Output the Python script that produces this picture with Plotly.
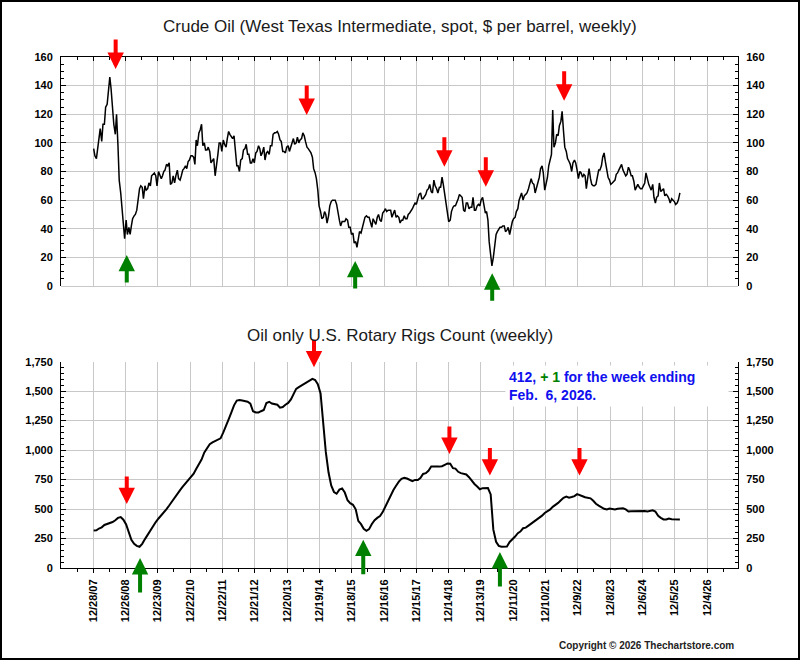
import pandas as pd
import plotly.graph_objects as go

# ---------------- data ----------------
# WTI spot, $ per barrel at ~1st and ~15th of each month
oil_start = "2008-01-01"
oil_wti = [
    # 2008
    96, 91, 89, 95, 102, 110, 101, 113, 113, 125, 127, 135, 146, 138, 124, 113, 106, 120, 98, 74, 65, 56, 47, 33,
    # 2009
    46, 36, 41, 36, 42, 47, 49, 50, 53, 59, 68, 70, 69, 61, 70, 67, 68, 72, 70, 77, 78, 79, 77, 70,
    # 2010
    80, 78, 75, 77, 80, 81, 85, 84, 86, 71, 72, 77, 72, 77, 81, 75, 74, 77, 81, 82, 84, 82, 87, 88,
    # 2011
    91, 91, 90, 85, 102, 98, 107, 109, 113, 98, 100, 95, 95, 97, 94, 86, 88, 89, 77, 86, 92, 100, 100, 94,
    # 2012
    102, 99, 97, 103, 108, 106, 104, 103, 105, 93, 84, 84, 80, 88, 89, 95, 96, 99, 92, 92, 86, 86, 89, 86,
    # 2013
    93, 94, 98, 96, 91, 93, 97, 88, 93, 94, 92, 98, 98, 106, 107, 107, 108, 106, 102, 101, 94, 94, 93, 97,
    # 2014
    98, 94, 97, 100, 103, 99, 100, 104, 100, 102, 103, 107, 105, 101, 97, 96, 94, 93, 90, 82, 79, 75, 67, 56,
    # 2015
    52, 47, 48, 52, 50, 44, 49, 56, 59, 60, 60, 60, 57, 51, 46, 42, 45, 45, 45, 47, 46, 41, 41, 36,
    # 2016
    37, 30, 31, 27, 34, 38, 37, 41, 45, 48, 49, 48, 48, 45, 41, 47, 44, 43, 48, 50, 46, 45, 51, 52,
    # 2017
    54, 52, 53, 53, 53, 48, 51, 53, 48, 49, 48, 44, 46, 46, 49, 47, 47, 50, 51, 52, 54, 56, 58, 57,
    # 2018
    61, 64, 65, 61, 61, 62, 64, 67, 68, 71, 66, 65, 74, 70, 68, 65, 69, 69, 76, 71, 64, 56, 52, 45,
    # 2019
    46, 52, 55, 56, 56, 58, 61, 64, 63, 62, 53, 52, 58, 58, 54, 55, 55, 62, 53, 53, 56, 57, 56, 60,
    # 2020
    62, 58, 51, 52, 46, 31, 23, 14, 20, 29, 36, 38, 40, 41, 41, 42, 42, 38, 39, 41, 36, 41, 45, 47,
    # 2021
    48, 52, 54, 60, 62, 65, 60, 63, 64, 65, 68, 71, 75, 72, 71, 65, 69, 72, 76, 82, 84, 79, 67, 71,
    # 2022
    76, 84, 88, 92, 123, 97, 100, 106, 105, 112, 115, 122, 108, 97, 94, 89, 87, 85, 80, 86, 88, 86, 81, 75,
    # 2023
    80, 79, 76, 78, 77, 68, 76, 82, 75, 71, 70, 70, 71, 76, 81, 81, 84, 90, 93, 87, 81, 76, 74, 71,
    # 2024
    72, 73, 74, 78, 79, 81, 84, 85, 81, 79, 77, 78, 83, 81, 77, 77, 73, 67, 70, 71, 69, 68, 68, 70,
    # 2025
    72, 79, 73, 71, 69, 67, 71, 62, 58, 62, 63, 72, 66, 67, 68, 63, 64, 63, 61, 58, 61, 60, 59, 57,
    # 2026
    58, 60, 65,
]

# Oil-only U.S. rotary rig count at the start of each month
rig_start = "2008-01-01"
rig_count = [
    # 2008
    318, 320, 335, 345, 365, 375, 378, 390, 405, 425, 432, 410,
    # 2009
    370, 300, 240, 205, 188, 180, 205, 245, 285, 320, 355, 390,
    # 2010
    420, 445, 470, 500, 530, 565, 600, 630, 660, 690, 720, 750,
    # 2011
    770, 800, 840, 880, 920, 980, 1020, 1050, 1065, 1075, 1085, 1100,
    # 2012
    1150, 1200, 1260, 1320, 1380, 1420, 1425, 1420, 1415, 1410, 1395, 1330,
    # 2013
    1320, 1320, 1330, 1340, 1400, 1410, 1395, 1390, 1385, 1360, 1365, 1385,
    # 2014
    1400, 1430, 1480, 1520, 1535, 1550, 1565, 1580, 1590, 1605, 1595, 1560,
    # 2015
    1480, 1220, 985, 810, 700, 645, 630, 665, 675, 640, 575, 550,
    # 2016
    536, 498, 400, 372, 332, 316, 330, 374, 406, 425, 441, 474,
    # 2017
    525, 566, 609, 662, 697, 733, 756, 766, 759, 750, 737, 747,
    # 2018
    747, 765, 798, 804, 825, 861, 858, 861, 860, 863, 875, 887,
    # 2019
    885, 847, 843, 816, 805, 800, 793, 770, 738, 713, 691, 668,
    # 2020
    677, 675, 678, 624, 325, 222, 188, 180, 180, 183, 221, 241,
    # 2021
    267, 295, 309, 337, 342, 359, 376, 387, 410, 428, 444, 467,
    # 2022
    480, 497, 519, 533, 552, 574, 595, 605, 596, 602, 610, 627,
    # 2023
    621, 609, 600, 593, 591, 570, 545, 529, 512, 502, 496, 505,
    # 2024
    501, 497, 503, 506, 506, 497, 479, 482, 483, 479, 479, 482,
    # 2025
    483, 479, 486, 489, 479, 442, 425, 412, 411, 420, 414, 412,
    # 2026
    409, 412,
]

# x-axis tick labels (dates as printed on the chart)
tick_labels = ["12/28/07", "12/26/08", "12/23/09", "12/22/10", "12/22/11", "12/21/12",
               "12/20/13", "12/19/14", "12/18/15", "12/16/16", "12/15/17", "12/14/18",
               "12/13/19", "12/11/20", "12/10/21", "12/9/22", "12/8/23", "12/6/24",
               "12/5/25", "12/4/26"]

# turning-point arrows: date, value at the arrow tip, direction
oil_arrow_dates = ["2008-09-05", "2009-01-08", "2014-07-29", "2016-01-26",
                   "2018-10-27", "2020-02-06", "2020-04-18", "2022-07-08"]
oil_arrow_values = [151.6, 21.7, 119.5, 17.5, 83.4, 69.4, 8.9, 129.5]
oil_arrow_dirs = ["down", "up", "down", "up", "down", "down", "up", "down"]

rig_arrow_dates = ["2009-01-08", "2009-06-07", "2014-10-19", "2016-04-26",
                   "2018-12-23", "2020-03-23", "2020-07-14", "2022-12-28"]
rig_arrow_values = [542, 85, 1702, 240, 968, 784, 135, 784]
rig_arrow_dirs = ["down", "up", "down", "up", "down", "down", "up", "down"]

latest_count = 412
latest_change = "+ 1"
latest_date = "Feb.\u00a0 6, 2026."

# ---------------- figure ----------------
oil_dates = pd.date_range(oil_start, periods=len(oil_wti), freq="SMS")
rig_dates = pd.date_range(rig_start, periods=len(rig_count), freq="MS")
tick_vals = pd.to_datetime(tick_labels, format="%m/%d/%y")
step = tick_vals[1] - tick_vals[0]
minor_vals = [tick_vals[0] - step / 2] + [a + (b - a) / 2 for a, b in zip(tick_vals[:-1], tick_vals[1:])] + [tick_vals[-1] + step / 2]
x_range = ["2006-12-29", "2027-11-18"]

FONT = "Liberation Sans, Arial, Helvetica, sans-serif"
GRID = "#c8c8c8"
RED = "#ff0000"
GREEN = "#008000"

W, H = 800, 660
ML, MR, MT, MB = 61, 62, 57, 92
PW, PH = W - ML - MR, H - MT - MB
top_dom = [(H - MB - 286) / PH, 1.0]
bot_dom = [0.0, (H - MB - 361.7) / PH]

fig = go.Figure()
fig.add_trace(go.Scatter(x=oil_dates, y=oil_wti, mode="lines", xaxis="x", yaxis="y",
                         line=dict(color="black", width=1.5), hoverinfo="skip"))
fig.add_trace(go.Scatter(x=oil_dates, y=oil_wti, mode="lines", xaxis="x", yaxis="y3",
                         line=dict(color="rgba(0,0,0,0)", width=0.1), hoverinfo="skip"))
fig.add_trace(go.Scatter(x=rig_dates, y=rig_count, mode="lines", xaxis="x2", yaxis="y2",
                         line=dict(color="black", width=2), hoverinfo="skip"))
fig.add_trace(go.Scatter(x=rig_dates, y=rig_count, mode="lines", xaxis="x2", yaxis="y4",
                         line=dict(color="rgba(0,0,0,0)", width=0.1), hoverinfo="skip"))

tickfont = dict(family=FONT, size=11, color="black", weight="bold")
ybase = dict(showline=True, linecolor="black", linewidth=1, ticks="inside", ticklen=5,
             tickcolor="black", tickwidth=1, tickfont=tickfont, ticklabelstandoff=5,
             zeroline=False, fixedrange=True)

fig.update_layout(
    width=W, height=H, margin=dict(l=ML, r=MR, t=MT, b=MB),
    paper_bgcolor="white", plot_bgcolor="white", showlegend=False,
    font=dict(family=FONT, color="black"),
    xaxis=dict(domain=[0, 1], anchor="y", side="top", type="date", range=x_range,
               tickmode="array", tickvals=tick_vals, showticklabels=False,
               ticks="inside", ticklen=4, tickcolor="black", showline=True,
               linecolor="black", linewidth=1, showgrid=True, gridcolor=GRID, gridwidth=1,
               minor=dict(tickmode="array", tickvals=minor_vals, ticks="inside", ticklen=3,
                          tickcolor="black", showgrid=False),
               zeroline=False, fixedrange=True),
    xaxis2=dict(domain=[0, 1], anchor="y2", side="bottom", type="date", range=x_range,
                tickmode="array", tickvals=tick_vals, ticktext=tick_labels, tickangle=-90,
                tickfont=tickfont, ticks="outside", ticklen=4, tickcolor="black",
                showline=True, linecolor="black", linewidth=1, showgrid=True,
                gridcolor=GRID, gridwidth=1, ticklabelstandoff=2,
                minor=dict(tickmode="array", tickvals=minor_vals, ticks="outside", ticklen=3,
                           tickcolor="black", showgrid=False),
                zeroline=False, fixedrange=True),
    yaxis=dict(ybase, domain=top_dom, anchor="x", side="left", range=[0, 160], dtick=20,
               showgrid=True, gridcolor=GRID, zeroline=True, zerolinecolor=GRID, zerolinewidth=1,
               minor=dict(dtick=5, ticks="inside", ticklen=3, tickcolor="black", showgrid=False)),
    yaxis3=dict(ybase, overlaying="y", anchor="x", side="right", range=[0, 160], dtick=20,
                showgrid=False,
                minor=dict(dtick=5, ticks="inside", ticklen=3, tickcolor="black", showgrid=False)),
    yaxis2=dict(ybase, domain=bot_dom, anchor="x2", side="left", range=[0, 1750], dtick=250,
                tickformat=",", showgrid=True, gridcolor=GRID,
                minor=dict(dtick=50, ticks="inside", ticklen=3, tickcolor="black", showgrid=False)),
    yaxis4=dict(ybase, overlaying="y2", anchor="x2", side="right", range=[0, 1750], dtick=250,
                tickformat=",", showgrid=False,
                minor=dict(dtick=50, ticks="inside", ticklen=3, tickcolor="black", showgrid=False)),
)

annotations = []


def add_arrows(dates, values, dirs, xref, yref, down_len, up_len):
    for d, v, dr in zip(dates, values, dirs):
        annotations.append(dict(
            x=d, y=v, xref=xref, yref=yref, text="", showarrow=True,
            arrowhead=2, arrowsize=0.82, arrowwidth=4, standoff=0,
            arrowcolor=RED if dr == "down" else GREEN,
            ax=0, ay=-down_len if dr == "down" else up_len))


add_arrows(oil_arrow_dates, oil_arrow_values, oil_arrow_dirs, "x", "y", 31, 29)
add_arrows(rig_arrow_dates, rig_arrow_values, rig_arrow_dirs, "x2", "y2", 29, 36)

# titles
annotations.append(dict(text="Crude Oil (West Texas Intermediate, spot, $ per barrel, weekly)",
                        xref="paper", yref="paper", x=(400 - ML) / PW, y=(H - MB - 26.5) / PH,
                        xanchor="center", yanchor="middle", showarrow=False,
                        font=dict(family=FONT, size=17, color="#1a1a1a")))
annotations.append(dict(text="Oil only U.S. Rotary Rigs Count (weekly)",
                        xref="paper", yref="paper", x=(400 - ML) / PW, y=(H - MB - 335) / PH,
                        xanchor="center", yanchor="middle", showarrow=False,
                        font=dict(family=FONT, size=17, color="#1a1a1a")))

# latest reading box
annotations.append(dict(
    text=f"{latest_count}, <span style='color:{GREEN}'>{latest_change}</span> for the week ending<br>{latest_date}",
    xref="x2 domain", yref="y2 domain", x=(505 - ML) / PW, y=(568.3 - 365) / 206.6,
    xanchor="left", yanchor="top", align="left", showarrow=False,
    bgcolor="white", borderpad=3, width=216,
    font=dict(family=FONT, size=14, color="#1010ee", weight="bold")))

# copyright
annotations.append(dict(text="Copyright \u00a9 2026 Thechartstore.com",
                        xref="paper", yref="paper", x=(736 - ML) / PW, y=(H - MB - 645) / PH,
                        xanchor="right", yanchor="middle", showarrow=False,
                        font=dict(family=FONT, size=10, color="#222222", weight="bold")))

fig.update_layout(annotations=annotations)

# outer frame of the picture
fig.add_shape(type="rect", xref="paper", yref="paper",
              x0=(1 - ML) / PW, x1=(W - 1 - ML) / PW,
              y0=(H - MB - (H - 1)) / PH, y1=(H - MB - 1) / PH,
              line=dict(color="black", width=2), fillcolor="rgba(0,0,0,0)", layer="above")

fig.write_html("out.html",
               config={"displayModeBar": False, "staticPlot": True},
               post_script="document.body.style.margin='0';document.body.style.padding='0';"
                           "document.body.style.overflow='hidden';")
